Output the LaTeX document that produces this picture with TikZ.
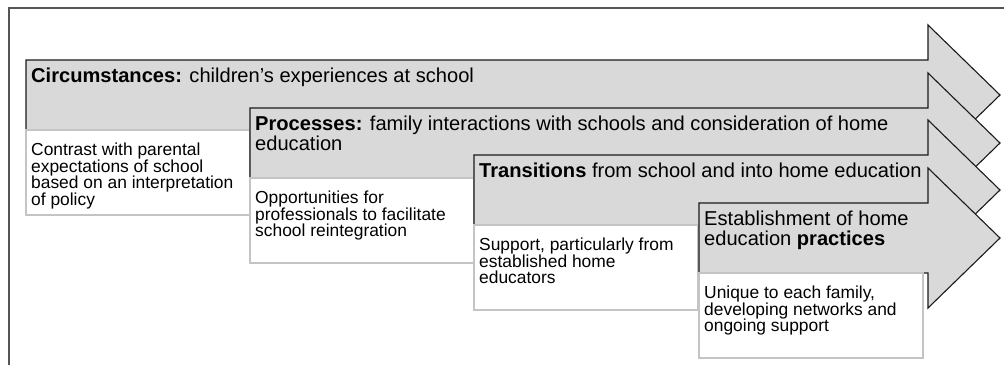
\documentclass[tikz,border=0pt]{standalone}
\usepackage{fontspec}
\setmainfont{Liberation Sans}
\definecolor{stagefill}{HTML}{D9D9D9}
\definecolor{stageline}{HTML}{1A1A1A}
\definecolor{noteline}{HTML}{C4C4C4}
\definecolor{frameline}{HTML}{555555}
\begin{document}
\begin{tikzpicture}[x=1pt,y=-1pt,
  stagearrow/.style={fill=stagefill,draw=stageline,line width=1.1pt,line join=miter},
  notebox/.style={fill=white,draw=noteline,line width=1.2pt},
  headtext/.style={anchor=north west,inner sep=0pt,align=left,
    font=\fontsize{20.1}{20.2}\selectfont},
  notetext/.style={anchor=north west,inner sep=0pt,align=left,
    font=\fontsize{17.4}{16.4}\selectfont}]
\useasboundingbox (0,0) rectangle (1004,365);
% open frame: top and left edges only
\draw[frameline,line width=1.3pt] (9,365) -- (9,8) -- (1004,8);
% each stage: arrow (left edge L, top T), then its note box below
\foreach \L/\T [count=\i] in {26/60,250/108,474/155,699/203}{
  \path[stagearrow] (\L,\T) -- (928,\T) -- (928,\T-35) -- (1000,\T+35)
    -- (928,\T+105) -- (928,\T+70) -- (\L,\T+70) -- cycle;
  \path[notebox] (\L,\T+70) rectangle (\L+224,\T+155);
  \coordinate (h\i) at (\L+5,\T+8);
  \coordinate (n\i) at (\L+5,\T+83);
}
\node[headtext] (c1) at (h1) {\textbf{Circumstances:} children’s experiences at school};
\node[notetext] (d1) at (n1) {Contrast with parental\\expectations of school\\based on an interpretation\\of policy};
\node[headtext] (c2) at (h2) {\textbf{Processes:} family interactions with schools and consideration of home\\education};
\node[notetext] (d2) at (n2) {Opportunities for\\professionals to facilitate\\school reintegration};
\node[headtext] (c3) at (h3) {\textbf{Transitions} from school and into home education};
\node[notetext] (d3) at (n3) {Support, particularly from\\established home\\educators};
\node[headtext] (c4) at (h4) {Establishment of home\\education \textbf{practices}};
\node[notetext] (d4) at (n4) {Unique to each family,\\developing networks and\\ongoing support};
\end{tikzpicture}
\end{document}
